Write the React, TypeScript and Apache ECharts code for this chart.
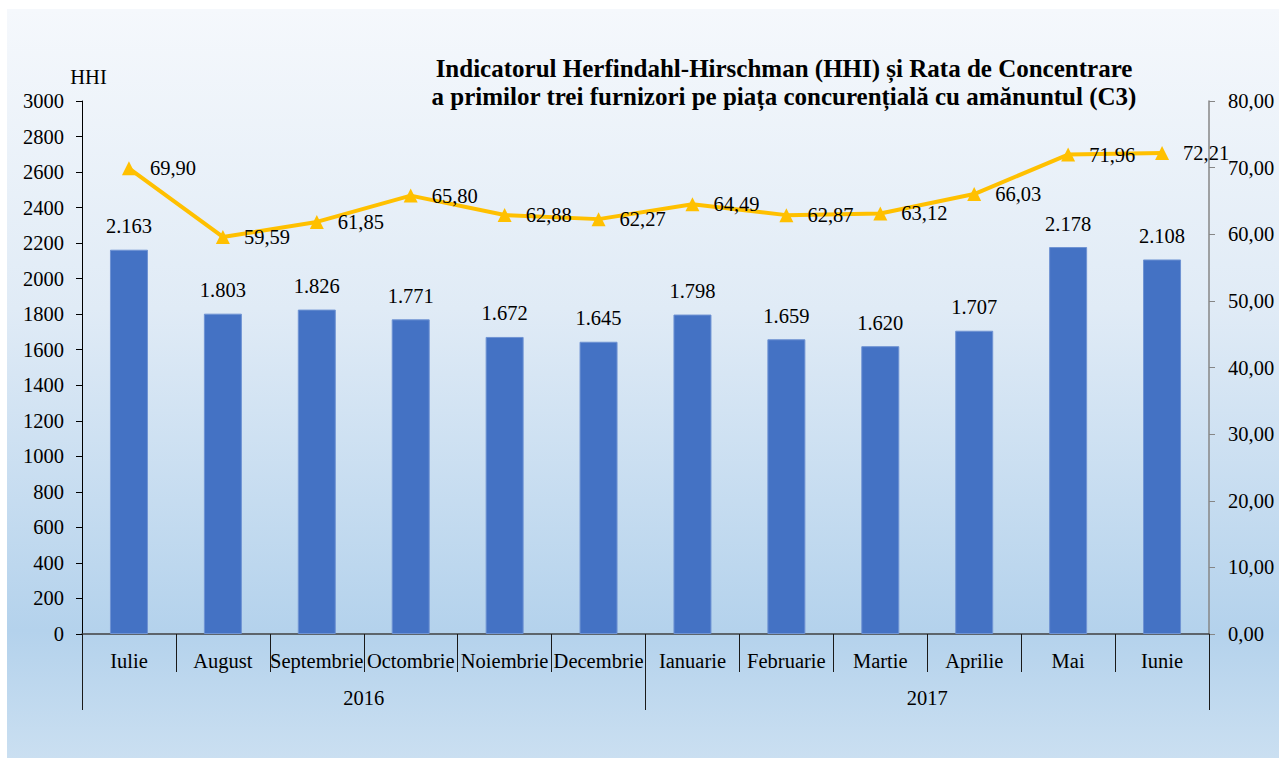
import React, { useEffect, useRef } from "react";
import * as echarts from "echarts";

const months = ["Iulie", "August", "Septembrie", "Octombrie", "Noiembrie", "Decembrie", "Ianuarie", "Februarie", "Martie", "Aprilie", "Mai", "Iunie"];
const years = ["2016", "2017"];
const hhiValues = [2163, 1803, 1826, 1771, 1672, 1645, 1798, 1659, 1620, 1707, 2178, 2108];
const c3Values = [69.9, 59.59, 61.85, 65.8, 62.88, 62.27, 64.49, 62.87, 63.12, 66.03, 71.96, 72.21];
const titleLines = [
  "Indicatorul Herfindahl-Hirschman (HHI) și Rata de Concentrare",
  "a primilor trei furnizori pe piața concurențială cu amănuntul (C3)",
];

const FONT = "'Liberation Serif', 'Times New Roman', serif";
const FS = 20.5;

const fmtThousands = (v: number) => String(v).replace(/\B(?=(\d{3})+(?!\d))/g, ".");
const fmtComma = (v: number) => v.toFixed(2).replace(".", ",");

export default function App() {
  const ref = useRef<HTMLDivElement>(null);
  useEffect(() => {
    if (!ref.current) return;
    const chart = echarts.init(ref.current, undefined, { renderer: "svg" });
    chart.setOption({
      animation: false,
      backgroundColor: "transparent",
      textStyle: { fontFamily: FONT },
      grid: { left: 82, right: 70, top: 101, bottom: 124, containLabel: false },
      graphic: titleLines.map((t, i) => ({
        type: "text",
        x: 784,
        y: 68 + i * 28,
        style: {
          text: t,
          fill: "#000",
          font: `bold 25px ${FONT}`,
          textAlign: "center",
          textVerticalAlign: "middle",
          verticalAlign: "middle",
        },
      })),
      xAxis: [
        {
          type: "category",
          data: months,
          position: "bottom",
          boundaryGap: true,
          axisLine: { show: true, lineStyle: { color: "#404040", width: 1.5 } },
          axisTick: { show: true, length: 38, lineStyle: { color: "#1a1a1a" } },
          axisLabel: { interval: 0, margin: 16, fontSize: FS, color: "#000", fontFamily: FONT },
          splitLine: { show: false },
        },
        {
          type: "category",
          data: years,
          position: "bottom",
          offset: 0,
          boundaryGap: true,
          axisLine: { show: false },
          axisTick: { show: true, length: 76, lineStyle: { color: "#1a1a1a" } },
          axisLabel: { interval: 0, margin: 53, fontSize: FS, color: "#000", fontFamily: FONT },
          splitLine: { show: false },
        },
      ],
      yAxis: [
        {
          type: "value",
          min: 0,
          max: 3000,
          interval: 200,
          position: "left",
          name: "HHI",
          nameLocation: "end",
          nameGap: 14,
          nameTextStyle: { fontSize: FS, color: "#000", fontFamily: FONT, padding: [0, 0, 0, 13] },
          axisLine: { show: true, lineStyle: { color: "#000", width: 1 } },
          axisTick: { show: true, length: 6, lineStyle: { color: "#000" } },
          axisLabel: { margin: 18, fontSize: FS, color: "#000", fontFamily: FONT, formatter: (v: number) => String(v) },
          splitLine: { show: false },
        },
        {
          type: "value",
          min: 0,
          max: 80,
          interval: 10,
          position: "right",
          axisLine: { show: true, lineStyle: { color: "#868686", width: 1.5 } },
          axisTick: { show: true, length: 6, lineStyle: { color: "#868686" } },
          axisLabel: { margin: 19, fontSize: FS, color: "#000", fontFamily: FONT, formatter: (v: number) => fmtComma(v) },
          splitLine: { show: false },
        },
      ],
      series: [
        {
          type: "bar",
          name: "HHI",
          data: hhiValues,
          xAxisIndex: 0,
          yAxisIndex: 0,
          barWidth: 38,
          itemStyle: { color: "#4472C4", borderColor: "#6f93d3", borderWidth: 1 },
          label: {
            show: true,
            position: "top",
            distance: 13,
            fontSize: FS,
            color: "#000",
            fontFamily: FONT,
            formatter: (p: any) => fmtThousands(p.value),
          },
          z: 2,
        },
        {
          type: "line",
          name: "C3",
          data: c3Values,
          xAxisIndex: 0,
          yAxisIndex: 1,
          symbol: "triangle",
          symbolSize: 14,
          lineStyle: { color: "#FFC000", width: 4 },
          itemStyle: { color: "#FFC000" },
          label: {
            show: true,
            position: "right",
            distance: 14,
            fontSize: FS,
            color: "#000",
            fontFamily: FONT,
            formatter: (p: any) => fmtComma(p.value),
          },
          z: 3,
        },
      ],
    });
    return () => chart.dispose();
  }, []);

  return (
    <div style={{ position: "fixed", left: 0, top: 0, width: 1279, height: 758, background: "#fff" }}>
      <div
        style={{
          position: "absolute",
          left: 7,
          top: 9,
          right: 0,
          bottom: 0,
          background: "linear-gradient(to bottom, #f5f8fc 0%, #e0ebf6 40%, #b4d2ec 83%, #cadff1 100%)",
        }}
      />
      <div ref={ref} style={{ position: "absolute", left: 0, top: 0, width: 1279, height: 758 }} />
    </div>
  );
}
